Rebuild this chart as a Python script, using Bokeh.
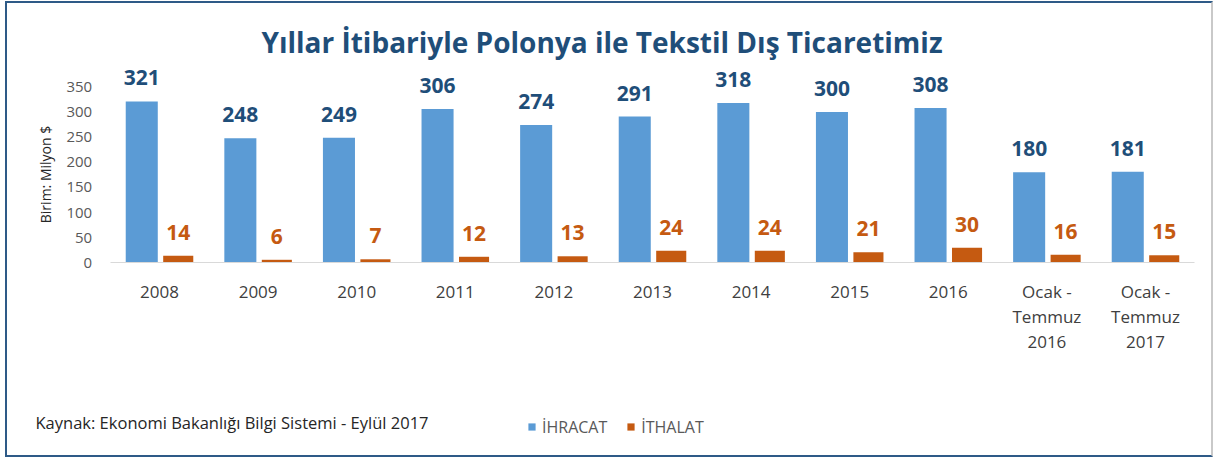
from bokeh.plotting import figure
from bokeh.models import (ColumnDataSource, LabelSet, Label, Legend, LegendItem,
                          FixedTicker, Range1d)
from bokeh.core.properties import value
from bokeh.transform import dodge
from bokeh.embed import file_html
from bokeh.resources import INLINE

categories = ["2008", "2009", "2010", "2011", "2012", "2013", "2014", "2015", "2016",
              "Ocak -\nTemmuz\n2016", "Ocak -\nTemmuz\n2017"]
ihracat = [321, 248, 249, 306, 274, 291, 318, 300, 308, 180, 181]
ithalat = [14, 6, 7, 12, 13, 24, 24, 21, 30, 16, 15]
y_ticks = [0, 50, 100, 150, 200, 250, 300, 350]

title_text = "Yıllar İtibariyle Polonya ile Tekstil Dış Ticaretimiz"
source_text = "Kaynak: Ekonomi Bakanlığı Bilgi Sistemi - Eylül 2017"
series_names = ["İHRACAT", "İTHALAT"]

BLUE = "#5B9BD5"
ORANGE = "#C55A11"
NAVY = "#1F4E79"
FONT = "Open Sans"

idx = list(range(len(categories)))
src = ColumnDataSource(dict(
    x=idx,
    ihr=ihracat,
    ith=ithalat,
    ihr_lbl=[str(v) for v in ihracat],
    ith_lbl=[str(v) for v in ithalat],
))

W, H = 1208, 456
p = figure(x_range=Range1d(-1.5416, 10.710), y_range=Range1d(-391.4, 516.0),
           width=W, height=H, output_backend="svg", toolbar_location=None,
           min_border=0)
p.styles = {"border": "2px solid #2E5A87", "border-right-color": "#C9C9C9",
            "margin-left": "5px", "margin-top": "1px"}
p.outline_line_color = None
p.background_fill_color = "white"
p.border_fill_color = "white"
p.xgrid.grid_line_color = None
p.ygrid.grid_line_color = None

b1 = p.vbar(x=dodge("x", -0.18), top="ihr", width=0.325,
            source=src, fill_color=BLUE, line_color=None)
b2 = p.vbar(x=dodge("x", 0.19), top="ith", width=0.305,
            source=src, fill_color=ORANGE, line_color=None)

l1 = LabelSet(x=dodge("x", -0.18), y="ihr", text="ihr_lbl", source=src,
              y_offset=16, text_align="center", text_baseline="alphabetic",
              text_font=value(FONT), text_font_style="bold", text_font_size="21px",
              text_color=NAVY)
l2 = LabelSet(x=dodge("x", 0.19), y="ith", text="ith_lbl", source=src,
              y_offset=16, text_align="center", text_baseline="alphabetic",
              text_font=value(FONT), text_font_style="bold", text_font_size="21px",
              text_color=ORANGE)
p.add_layout(l1)
p.add_layout(l2)

# x axis, drawn at y = 0
xa = p.xaxis[0]
xa.fixed_location = 0
xa.bounds = (-0.5, len(categories) - 0.5)
xa.ticker = FixedTicker(ticks=idx)
xa.major_label_overrides = {i: c for i, c in zip(idx, categories)}
xa.axis_line_color = "#D9D9D9"
xa.major_tick_line_color = None
xa.minor_tick_line_color = None
xa.major_tick_out = 0
xa.major_tick_in = 0
xa.major_label_standoff = 17
xa.major_label_text_font = FONT
xa.major_label_text_font_size = "17px"
xa.major_label_text_color = "#404040"
xa.major_label_text_line_height = 1.1

# y axis, drawn at the left edge of the first category
ya = p.yaxis[0]
ya.fixed_location = -0.5
ya.bounds = (0, 350)
ya.ticker = FixedTicker(ticks=y_ticks)
ya.axis_line_color = None
ya.major_tick_line_color = None
ya.minor_tick_line_color = None
ya.major_tick_out = 0
ya.major_tick_in = 0
ya.major_label_standoff = 18
ya.major_label_text_font = FONT
ya.major_label_text_font_size = "15px"
ya.major_label_text_color = "#595959"
ya.axis_label = "Birim: Milyon $"
ya.axis_label_text_font = FONT
ya.axis_label_text_font_size = "14px"
ya.axis_label_text_font_style = "normal"
ya.axis_label_text_color = "#262626"
ya.axis_label_standoff = 9

# title and source note (screen units from the bottom-left of the canvas)
p.add_layout(Label(x=594.5, y=418, x_units="screen", y_units="screen", text=title_text,
                   text_align="center", text_baseline="middle", text_font=FONT,
                   text_font_style="bold", text_font_size="28px", text_color=NAVY))
p.add_layout(Label(x=28, y=37.5, x_units="screen", y_units="screen", text=source_text,
                   text_align="left", text_baseline="alphabetic", text_font=FONT,
                   text_font_size="16.5px", text_color="#262626"))

legend = Legend(items=[LegendItem(label=series_names[0], renderers=[b1]),
                       LegendItem(label=series_names[1], renderers=[b2])],
                location=(520, 21.5), orientation="horizontal",
                glyph_width=9, glyph_height=9, label_standoff=6, spacing=19,
                padding=0, margin=0, border_line_alpha=0, background_fill_alpha=0,
                label_text_font=FONT, label_text_font_size="16px",
                label_text_color="#595959", label_height=20)
p.add_layout(legend)

open("out.html", "w").write(file_html(p, INLINE))
